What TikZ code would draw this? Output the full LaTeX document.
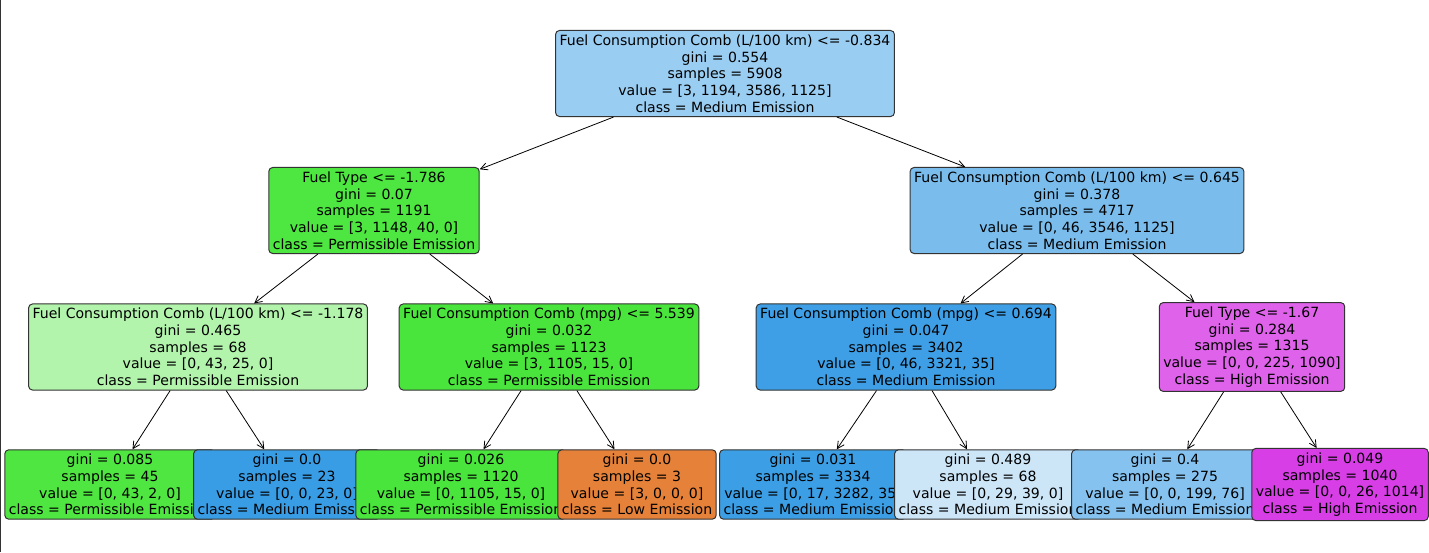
\documentclass[tikz,border=0pt]{standalone}
\usepackage{fontspec}
\setmainfont{DejaVu Sans}
\usetikzlibrary{arrows.meta}
\definecolor{rootblue}{RGB}{154,205,242}
\definecolor{lefgreen}{RGB}{78,230,64}
\definecolor{rigblue}{RGB}{122,189,237}
\definecolor{palegreen}{RGB}{178,244,172}
\definecolor{fullgreen}{RGB}{74,229,60}
\definecolor{deepblue}{RGB}{62,159,230}
\definecolor{midmagenta}{RGB}{223,98,234}
\definecolor{leafgreen}{RGB}{80,230,66}
\definecolor{pureblue}{RGB}{57,157,229}
\definecolor{pureorange}{RGB}{229,129,57}
\definecolor{leafblue}{RGB}{60,159,229}
\definecolor{paleblue}{RGB}{204,230,248}
\definecolor{softblue}{RGB}{133,194,239}
\definecolor{leafmagenta}{RGB}{216,62,230}

\begin{document}
\begin{tikzpicture}[x=0.5pt, y=-0.5pt, font=\fontsize{7.03}{8.35}\selectfont,
  tnode/.style={draw=black!80, line width=0.5pt, rounded corners=2pt, align=center, inner xsep=2pt, inner ysep=2.1pt},
  branch/.style={-{Straight Barb[length=3.5pt,width=3.6pt]}, line width=0.4pt}]
	\useasboundingbox (0,0) rectangle (1429,552);
	\draw[color=black!80, line width=0.6pt] (0.6,0) -- (0.6,552);
	% depth 0 and 1
	\node[tnode, fill=rootblue] (root) at (725,73.5) {Fuel Consumption Comb (L/100 km) <= -0.834\\gini = 0.554\\samples = 5908\\value = [3, 1194, 3586, 1125]\\class = Medium Emission};
	\node[tnode, fill=lefgreen] (fueltype) at (374,210.5) {Fuel Type <= -1.786\\gini = 0.07\\samples = 1191\\value = [3, 1148, 40, 0]\\class = Permissible Emission};
	\node[tnode, fill=rigblue] (combhigh) at (1077,210.5) {Fuel Consumption Comb (L/100 km) <= 0.645\\gini = 0.378\\samples = 4717\\value = [0, 46, 3546, 1125]\\class = Medium Emission};
	% depth 2
	\node[tnode, fill=palegreen] (comblow) at (198,347) {Fuel Consumption Comb (L/100 km) <= -1.178\\gini = 0.465\\samples = 68\\value = [0, 43, 25, 0]\\class = Permissible Emission};
	\node[tnode, fill=fullgreen] (mpgleft) at (549,347) {Fuel Consumption Comb (mpg) <= 5.539\\gini = 0.032\\samples = 1123\\value = [3, 1105, 15, 0]\\class = Permissible Emission};
	\node[tnode, fill=deepblue] (mpgright) at (906,347) {Fuel Consumption Comb (mpg) <= 0.694\\gini = 0.047\\samples = 3402\\value = [0, 46, 3321, 35]\\class = Medium Emission};
	\node[tnode, fill=midmagenta] (fueltyper) at (1252,347) {Fuel Type <= -1.67\\gini = 0.284\\samples = 1315\\value = [0, 0, 225, 1090]\\class = High Emission};
	% leaves, each one drawn over its left neighbour
	\node[tnode, fill=leafgreen] (leafa) at (110,484.5) {gini = 0.085\\samples = 45\\value = [0, 43, 2, 0]\\class = Permissible Emission};
	\node[tnode, fill=pureblue] (leafb) at (287,484.5) {gini = 0.0\\samples = 23\\value = [0, 0, 23, 0]\\class = Medium Emission};
	\node[tnode, fill=fullgreen] (leafc) at (461,484.5) {gini = 0.026\\samples = 1120\\value = [0, 1105, 15, 0]\\class = Permissible Emission};
	\node[tnode, fill=pureorange] (leafd) at (637,484.5) {gini = 0.0\\samples = 3\\value = [3, 0, 0, 0]\\class = Low Emission};
	\node[tnode, fill=leafblue] (leafe) at (813,484.5) {gini = 0.031\\samples = 3334\\value = [0, 17, 3282, 35]\\class = Medium Emission};
	\node[tnode, fill=paleblue] (leaff) at (988,484.5) {gini = 0.489\\samples = 68\\value = [0, 29, 39, 0]\\class = Medium Emission};
	\node[tnode, fill=softblue] (leafg) at (1165,484.5) {gini = 0.4\\samples = 275\\value = [0, 0, 199, 76]\\class = Medium Emission};
	\node[tnode, fill=leafmagenta] (leafh) at (1340,484.5) {gini = 0.049\\samples = 1040\\value = [0, 0, 26, 1014]\\class = High Emission};
	% branches
	\draw[branch] (root) -- (fueltype);
	\draw[branch] (root) -- (combhigh);
	\draw[branch] (fueltype) -- (comblow);
	\draw[branch] (fueltype) -- (mpgleft);
	\draw[branch] (combhigh) -- (mpgright);
	\draw[branch] (combhigh) -- (fueltyper);
	\draw[branch] (comblow) -- (leafa);
	\draw[branch] (comblow) -- (leafb);
	\draw[branch] (mpgleft) -- (leafc);
	\draw[branch] (mpgleft) -- (leafd);
	\draw[branch] (mpgright) -- (leafe);
	\draw[branch] (mpgright) -- (leaff);
	\draw[branch] (fueltyper) -- (leafg);
	\draw[branch] (fueltyper) -- (leafh);
\end{tikzpicture}
\end{document}
